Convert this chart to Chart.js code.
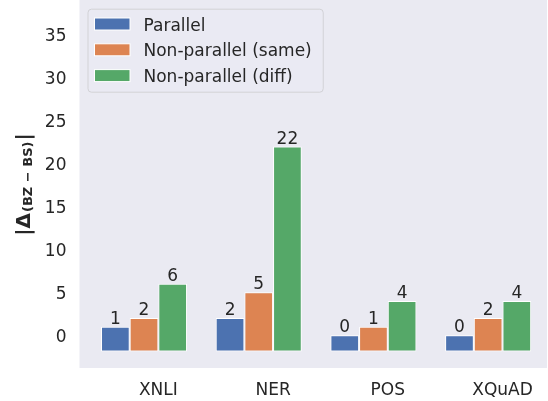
<!DOCTYPE html>
<html><head><meta charset="utf-8">
<script src="https://cdn.jsdelivr.net/npm/chart.js@4/dist/chart.umd.min.js"></script>
<style>html,body{margin:0;padding:0;background:#fff;}canvas{display:block;}</style>
</head><body>
<canvas id="c" width="548" height="401"></canvas>
<script>
// ---- data ----
const categories = ['XNLI', 'NER', 'POS', 'XQuAD'];
const seriesNames = ['Parallel', 'Non-parallel (same)', 'Non-parallel (diff)'];
const parallel = [1, 2, 0, 0];
const nonParallelSame = [2, 5, 1, 2];
const nonParallelDiff = [6, 22, 4, 4];
const yTicks = [0, 5, 10, 15, 20, 25, 30, 35];
const yLabelMain = ['|', 'Δ'];
const yLabelSub = '(BZ − BS)';
const yLabelEnd = '|';

// ---- styles ----
const colors = ['#4C72B0', '#DD8452', '#55A868'];
const textColor = '#262626';
const FONT = '"DejaVu Sans", sans-serif';
const barBase = -1.9;
const series = [parallel, nonParallelSame, nonParallelDiff];

const bgPlugin = {
  id: 'bg',
  beforeDraw(chart) {
    const {ctx, chartArea: a} = chart;
    ctx.save();
    ctx.fillStyle = '#ffffff';
    ctx.fillRect(0, 0, chart.width, chart.height);
    ctx.fillStyle = '#EAEAF2';
    ctx.fillRect(a.left, a.top, a.right - a.left, a.bottom - a.top);
    ctx.restore();
  }
};

const valueLabels = {
  id: 'valueLabels',
  afterDatasetsDraw(chart) {
    const ctx = chart.ctx;
    ctx.save();
    ctx.font = '17px ' + FONT;
    ctx.fillStyle = textColor;
    ctx.textAlign = 'center';
    ctx.textBaseline = 'alphabetic';
    series.forEach((arr, k) => {
      const meta = chart.getDatasetMeta(k);
      meta.data.forEach((bar, i) => {
        ctx.fillText(String(arr[i]), bar.x, bar.y - 3);
      });
    });
    ctx.restore();
  }
};

const legendBox = {
  id: 'legendBox',
  afterDraw(chart) {
    const {ctx, chartArea: a} = chart;
    ctx.save();
    ctx.font = '17px ' + FONT;
    const fl = a.left + 8, ft = a.top + 8.7;
    const swL = fl + 7, swW = 35.5, swH = 12;
    const textX = swL + swW + 13.5;
    let maxW = 0;
    chart.data.datasets.forEach(ds => { maxW = Math.max(maxW, ctx.measureText(ds.label).width); });
    const fw = textX + maxW + 11 - fl, fh = 83;
    ctx.beginPath();
    if (ctx.roundRect) ctx.roundRect(fl + 0.5, ft + 0.5, fw, fh, 3.5); else ctx.rect(fl + 0.5, ft + 0.5, fw, fh);
    ctx.fillStyle = 'rgba(234,234,242,0.8)';
    ctx.fill();
    ctx.strokeStyle = '#d2d2d6';
    ctx.lineWidth = 1;
    ctx.stroke();
    chart.data.datasets.forEach((ds, k) => {
      const cy = ft + 15.3 + k * 25.8;
      ctx.fillStyle = ds.backgroundColor;
      ctx.fillRect(swL, cy - swH / 2, swW, swH);
      ctx.strokeStyle = '#ffffff';
      ctx.lineWidth = 1;
      ctx.strokeRect(swL, cy - swH / 2, swW, swH);
      ctx.fillStyle = textColor;
      ctx.textAlign = 'left';
      ctx.textBaseline = 'alphabetic';
      ctx.fillText(ds.label, textX, cy + 6.5);
    });
    ctx.restore();
  }
};

const yTitle = {
  id: 'yTitle',
  afterDraw(chart) {
    const ctx = chart.ctx;
    const fMain = 'bold 20px ' + FONT;
    const fSub = 'bold 13px ' + FONT;
    ctx.save();
    ctx.fillStyle = textColor;
    ctx.textBaseline = 'alphabetic';
    ctx.textAlign = 'left';
    ctx.font = fMain;
    const w0 = ctx.measureText(yLabelMain[0]).width;
    const w1 = ctx.measureText(yLabelMain[1]).width;
    const w3 = ctx.measureText(yLabelEnd).width;
    ctx.font = fSub;
    const w2 = ctx.measureText(yLabelSub).width;
    const total = w0 + w1 + 1 + w2 + 1 + w3;
    ctx.translate(30, 184.5);
    ctx.rotate(-Math.PI / 2);
    let u = -total / 2;
    ctx.font = fMain;
    ctx.fillText(yLabelMain[0], u, 0); u += w0;
    ctx.fillText(yLabelMain[1], u, 0); u += w1 + 1;
    ctx.font = fSub;
    ctx.fillText(yLabelSub, u, 1.5); u += w2 + 1;
    ctx.font = fMain;
    ctx.fillText(yLabelEnd, u, 0);
    ctx.restore();
  }
};

new Chart(document.getElementById('c'), {
  type: 'bar',
  data: {
    datasets: series.map((arr, k) => ({
      label: seriesNames[k],
      data: categories.map((c, i) => ({x: i, y: arr[i]})),
      backgroundColor: colors[k],
      borderColor: '#ffffff',
      borderWidth: 1,
      borderSkipped: false,
      base: barBase,
      categoryPercentage: 0.75,
      barPercentage: 1.0
    }))
  },
  options: {
    responsive: false,
    animation: false,
    devicePixelRatio: 1,
    layout: {padding: {left: 0, top: 0, right: 1, bottom: 0}, autoPadding: false},
    plugins: {legend: {display: false}, tooltip: {enabled: false}, title: {display: false}},
    scales: {
      x: {
        type: 'linear',
        min: -0.5625,
        max: 3.513,
        bounds: 'data',
        offset: false,
        grid: {display: false, drawTicks: false},
        border: {display: false},
        afterBuildTicks: s => { s.ticks = categories.map((c, i) => ({value: i + 0.125})); },
        ticks: {
          autoSkip: false, maxRotation: 0, minRotation: 0, padding: 12,
          color: textColor, font: {family: FONT, size: 17},
          callback: (v, i) => categories[i]
        },
        afterFit: s => { s.height = 33; s.paddingLeft = 0; s.paddingRight = 0; }
      },
      y: {
        type: 'linear',
        min: -3.82,
        max: 39.08,
        bounds: 'data',
        grid: {display: false, drawTicks: false},
        border: {display: false},
        afterBuildTicks: s => { s.ticks = yTicks.map(v => ({value: v})); },
        ticks: {padding: 13, labelOffset: 2, color: textColor, font: {family: FONT, size: 17}},
        afterFit: s => { s.width = 79.5; s.paddingTop = 0; s.paddingBottom = 0; }
      }
    }
  },
  plugins: [bgPlugin, valueLabels, legendBox, yTitle]
});
</script>
</body></html>
